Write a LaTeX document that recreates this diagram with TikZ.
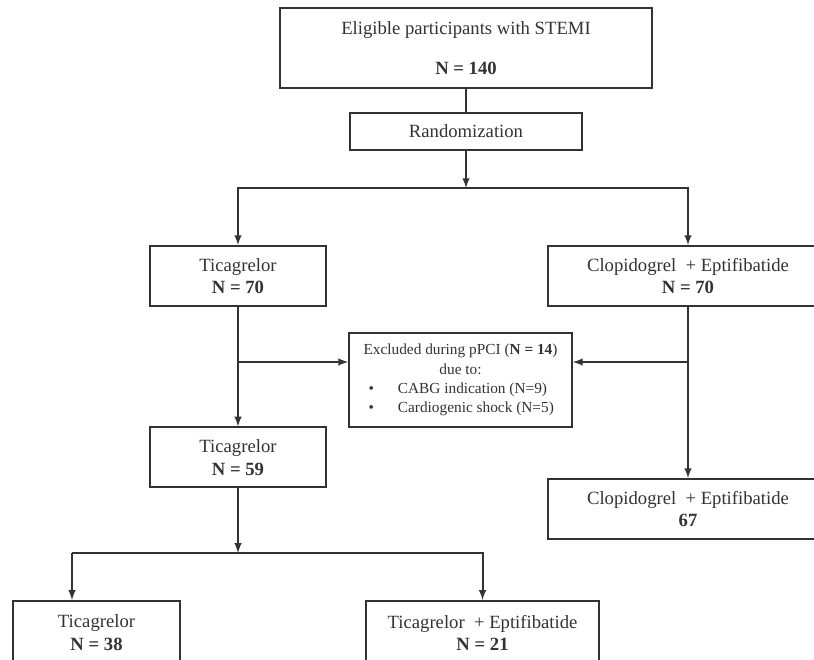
\documentclass[tikz,border=0pt]{standalone}
\usepackage{fontspec}
\setmainfont{Liberation Serif}
\usetikzlibrary{arrows}
\tikzstyle{groupbox} = [
    rectangle,
    minimum width=132pt,
    minimum height=45pt,
    inner sep=0pt,
    align=center,
    line width=1.5pt,
    draw=black!80,
    text=black!80,
    font=\fontsize{14pt}{17pt}\selectfont
]
\tikzstyle{widebox} = [
    groupbox,
    minimum width=210pt
]
\tikzstyle{notebox} = [
    groupbox,
    minimum width=167pt,
    minimum height=70.5pt,
    font=\fontsize{11.5pt}{14.5pt}\selectfont
]
\tikzstyle{joint} = [coordinate]
\tikzstyle{line} = [line width=1.5pt, draw=black!80]
\tikzstyle{arrow} = [line, ->, >=latex]

\begin{document}
\begin{tikzpicture}[node distance=60pt]

\path[use as bounding box] (0,0) rectangle (610.5pt,-495pt);
\clip (0,0) rectangle (610.5pt,-495pt);
\fill[white] (0,0) rectangle (610.5pt,-495pt);

\node (start) [groupbox, minimum width=279pt, minimum height=60pt] at (349.5pt,-36pt)
{Eligible participants with STEMI\\[13pt] \textbf{N = 140}};

\node (rand) [groupbox, minimum width=174pt, minimum height=27.75pt,
    below of=start, yshift=-2.6pt]
{Randomization};

\node (split1) [joint, below of=rand, yshift=17.6pt] {};

\node (tica1) [groupbox, below of=rand, yshift=-48.4pt, xshift=-171pt]
{Ticagrelor\\ \textbf{N = 70}};

\node (clop1) [widebox, below of=rand, yshift=-48.4pt, xshift=166.5pt]
{Clopidogrel~ + Eptifibatide\\ \textbf{N = 70}};

\node (excl) [notebox, right of=tica1, xshift=106.9pt, yshift=-78pt]
{Excluded during pPCI (\textbf{N = 14})\\
due to:\\
\makebox[138pt][l]{\textbullet\hspace{18pt}CABG indication (N=9)}\\
\makebox[138pt][l]{\textbullet\hspace{18pt}Cardiogenic shock (N=5)}};

\node (jl) [joint, below of=tica1, yshift=-4.5pt] {};
\node (jr) [joint, below of=clop1, yshift=-4.5pt] {};

\node (tica2) [groupbox, below of=tica1, yshift=-76.1pt]
{Ticagrelor\\ \textbf{N = 59}};

\node (clop2) [widebox, below of=clop1, yshift=-114.75pt]
{Clopidogrel~ + Eptifibatide\\ \textbf{67}};

\node (split2) [joint, below of=tica2, yshift=-11.6pt] {};
\node (ja) [joint, left of=split2, xshift=-64.5pt] {};

\node (ticaA) [groupbox, minimum width=125.25pt, minimum height=48pt,
    below of=tica2, yshift=-71.6pt, xshift=-106.1pt]
{Ticagrelor\\ \textbf{N = 38}};

\node (ticaB) [groupbox, minimum width=174.75pt, minimum height=48pt,
    below of=tica2, yshift=-71.6pt, xshift=183.4pt]
{Ticagrelor~ + Eptifibatide\\ \textbf{N = 21}};

\draw [line] (start) -- (rand);
\draw [arrow] (rand) -- (split1);
\draw [arrow] (split1) -| (tica1);
\draw [arrow] (split1) -| (clop1);

\draw [arrow] (tica1) -- (tica2);
\draw [arrow] (clop1) -- (clop2);
\draw [arrow] (jl) -- (jl -| excl.west);
\draw [arrow] (jr) -- (jr -| excl.east);

\draw [arrow] (tica2) -- (split2);
\draw [arrow] (ja) -- (ja |- ticaA.north);
\draw [arrow] (ja) -| (ticaB);

\end{tikzpicture}
\end{document}
